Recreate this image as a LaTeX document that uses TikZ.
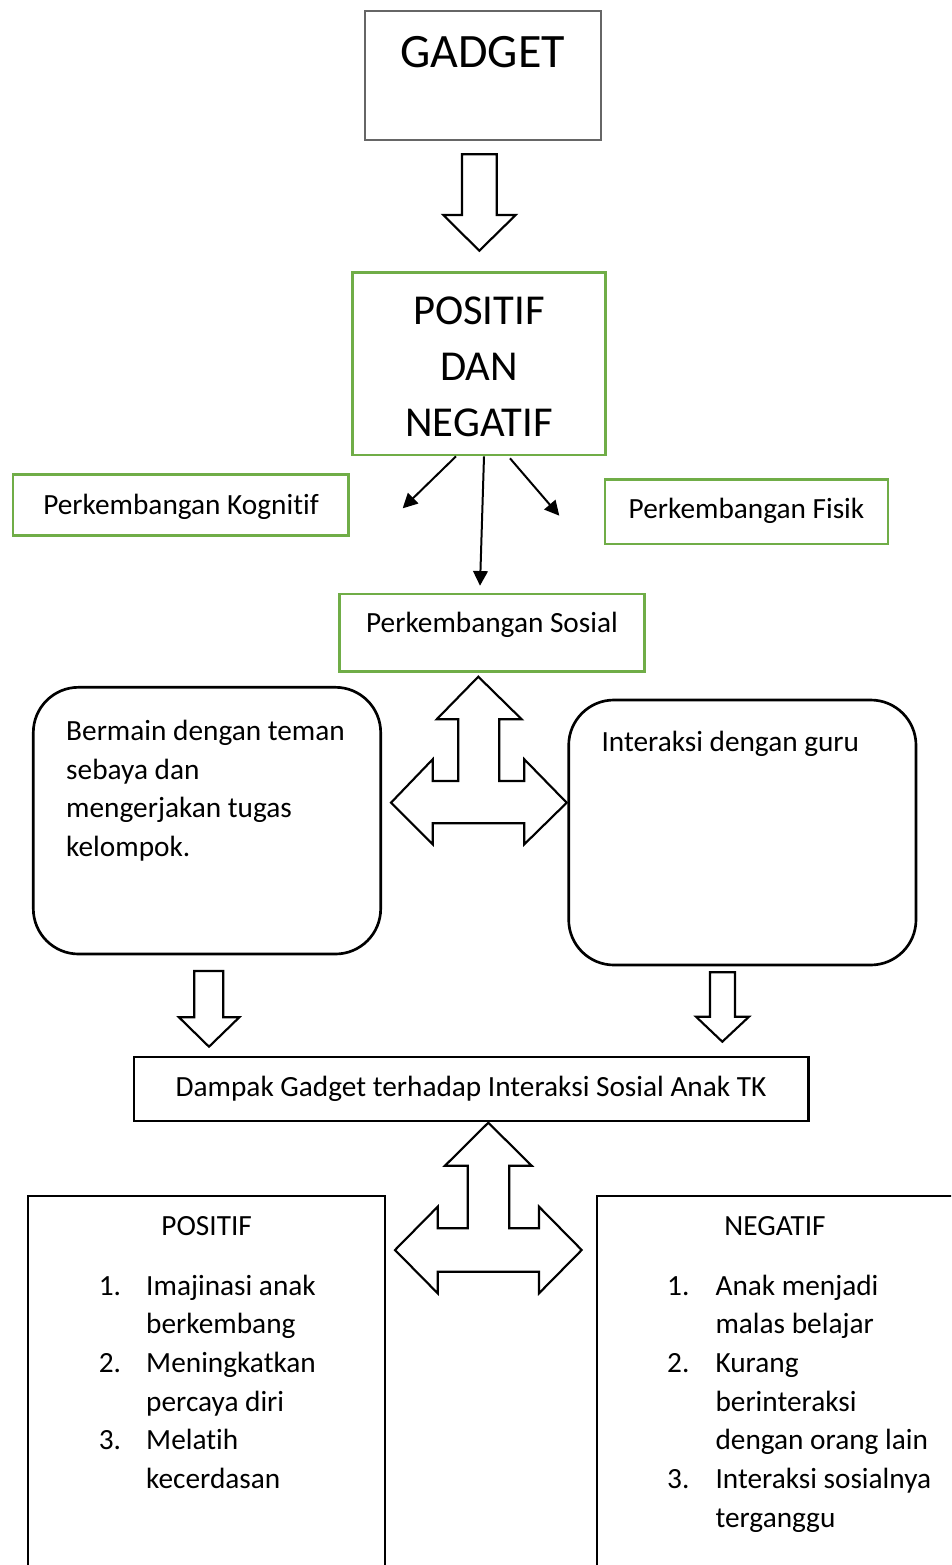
\documentclass[tikz,border=0pt]{standalone}
\usepackage{fontspec}
\setmainfont{Carlito}[Ligatures=NoCommon]
\usepackage{xcolor}
\usetikzlibrary{arrows.meta,fit,calc}

\definecolor{boxgreen}{RGB}{112,173,71}
\definecolor{boxgray}{RGB}{102,102,102}

\tikzset{
  greenbox/.style={draw=boxgreen, line width=1pt, inner sep=0pt},
  graybox/.style={draw=boxgray, line width=1pt, inner sep=0pt},
  blackbox/.style={draw=black, line width=0.8pt, inner sep=0pt},
  roundbox/.style={draw=black, line width=1pt, rounded corners=17pt, inner sep=0pt},
  blockarrow/.style={draw=black, line width=0.8pt, line join=miter},
  thinarrow/.style={line width=0.75pt, -{Triangle[length=5.5pt,width=5.5pt]}},
  bodytext/.style={inner sep=0pt, font=\fontsize{11}{13}\selectfont},
  titletext/.style={inner sep=0pt, anchor=base, font=\fontsize{18}{22}\selectfont},
  midtext/.style={inner sep=0pt, anchor=base, font=\fontsize{16}{20}\selectfont},
}

\begin{document}
\begin{tikzpicture}[x=0.3754pt,y=-0.3754pt]
\useasboundingbox (0,0) rectangle (951,1565);
\clip (0,0) rectangle (951,1565);

%gadget
\node[graybox, fit={(365,11) (601,140)}] (gadget) {};
\node[titletext] (gadgettxt) at (482.5,67.5) {GADGET};

%down arrow
\draw[blockarrow] (462,154.3) -- (496.7,154.3) -- (496.7,215) -- (515.7,215) -- (479.3,250.7)
  -- (443.3,215) -- (462,215) -- cycle;

%positif dan negatif
\node[greenbox, fit={(352.3,272.3) (605.7,455)}] (posneg) {};
\node[midtext] (posnegA) at (479,324.5) {POSITIF};
\node[midtext] (posnegB) at (479,380) {DAN};
\node[midtext] (posnegC) at (479,436) {NEGATIF};

%three small boxes
\node[greenbox, fit={(13,474.5) (348.3,535.7)}] (kognitif) {};
\node[bodytext, anchor=base] (kognitiftxt) at (181,514) {Perkembangan Kognitif};
\node[greenbox, fit={(605,479.3) (888,544)}] (fisik) {};
\node[bodytext, anchor=base] (fisiktxt) at (746.5,518.5) {Perkembangan Fisik};
\node[greenbox, fit={(339.3,594) (644.3,671.7)}] (sosial) {};
\node[bodytext, anchor=base] (sosialtxt) at (492,632.5) {Perkembangan Sosial};

%arrows
\coordinate (kogtip) at (402.7,508.3);
\coordinate (sostip) at (480,585.7);
\coordinate (fistip) at (559.3,515.7);
\draw[thinarrow] ($(posneg.south)+(-23,0)$) -- (kogtip);
\draw[thinarrow] ($(posneg.south)+(5,0)$) -- (sostip);
\draw[thinarrow] ($(posneg.south)+(31,2)$) -- (fistip);

%rounded boxes
\node[roundbox, fit={(33.3,687.3) (380.7,954)}] (bermain) {};
\node[bodytext, anchor=base west] (bermainA) at (65.7,740.5) {Bermain dengan teman};
\node[bodytext, anchor=base west] (bermainB) at (65.7,779) {sebaya dan};
\node[bodytext, anchor=base west] (bermainC) at (65.7,817.5) {mengerjakan tugas};
\node[bodytext, anchor=base west] (bermainD) at (65.7,856) {kelompok.};
\node[roundbox, fit={(568.7,700) (916,965)}] (guru) {};
\node[bodytext, anchor=base west] (gurutxt) at (601,751.5) {Interaksi dengan guru};

%three way arrow
\draw[blockarrow] (478.3,676.7) -- (521.7,719.3) -- (499.3,719.3) -- (499.3,781) -- (524.3,781)
  -- (524.3,759.3) -- (566.7,802.7) -- (524.3,844.3) -- (524.3,823.3) -- (432.7,823.3)
  -- (432.7,844.3) -- (391,802.7) -- (432.7,759.3) -- (432.7,781) -- (458.3,781)
  -- (458.3,719.3) -- (436.7,719.3) -- cycle;

%down arrows
\draw[blockarrow] (194.3,971) -- (223.3,971) -- (223.3,1017.3) -- (239.3,1017.3) -- (209,1046.7)
  -- (179,1017.3) -- (194.3,1017.3) -- cycle;
\draw[blockarrow] (710,972.3) -- (735,972.3) -- (735,1016.7) -- (749,1016.7) -- (722.3,1041.7)
  -- (696,1016.7) -- (710,1016.7) -- cycle;

%dampak
\node[blackbox, fit={(134,1057) (808.5,1121)}] (dampak) {};
\node[bodytext, anchor=base] (dampaktxt) at (471,1096) {Dampak Gadget terhadap Interaksi Sosial Anak TK};

%three way arrow
\draw[blockarrow] (488.3,1122.7) -- (531.7,1165.7) -- (509.3,1165.7) -- (509.3,1228.3) -- (539,1228.3)
  -- (539,1206.7) -- (581.7,1250) -- (539,1293.3) -- (539,1271.7) -- (437.7,1271.7)
  -- (437.7,1293.3) -- (395,1250) -- (437.7,1206.7) -- (437.7,1228.3) -- (467.7,1228.3)
  -- (467.7,1165.7) -- (445,1165.7) -- cycle;

%positif
\node[blackbox, fit={(28.3,1196) (385,1600)}] (positif) {};
\node[bodytext, anchor=base] (positiftxt) at (206.7,1235) {POSITIF};
\node[bodytext, anchor=base west] (posA) at (98.3,1295) {1.};
\node[bodytext, anchor=base west] (posAa) at (145.7,1295) {Imajinasi anak};
\node[bodytext, anchor=base west] (posAb) at (145.7,1333.7) {berkembang};
\node[bodytext, anchor=base west] (posB) at (98.3,1372.3) {2.};
\node[bodytext, anchor=base west] (posBa) at (145.7,1372.3) {Meningkatkan};
\node[bodytext, anchor=base west] (posBb) at (145.7,1411) {percaya diri};
\node[bodytext, anchor=base west] (posC) at (98.3,1449.6) {3.};
\node[bodytext, anchor=base west] (posCa) at (145.7,1449.6) {Melatih};
\node[bodytext, anchor=base west] (posCb) at (145.7,1488.3) {kecerdasan};

%negatif
\node[blackbox, fit={(597.3,1196) (980,1600)}] (negatif) {};
\node[bodytext, anchor=base] (negatiftxt) at (775,1235) {NEGATIF};
\node[bodytext, anchor=base west] (negA) at (666.7,1295) {1.};
\node[bodytext, anchor=base west] (negAa) at (715,1295) {Anak menjadi};
\node[bodytext, anchor=base west] (negAb) at (715,1333.7) {malas belajar};
\node[bodytext, anchor=base west] (negB) at (666.7,1372.3) {2.};
\node[bodytext, anchor=base west] (negBa) at (715,1372.3) {Kurang};
\node[bodytext, anchor=base west] (negBb) at (715,1411) {berinteraksi};
\node[bodytext, anchor=base west] (negBc) at (715,1449.6) {dengan orang lain};
\node[bodytext, anchor=base west] (negC) at (666.7,1488.3) {3.};
\node[bodytext, anchor=base west] (negCa) at (715,1488.3) {Interaksi sosialnya};
\node[bodytext, anchor=base west] (negCb) at (715,1527) {terganggu};
\end{tikzpicture}
\end{document}
